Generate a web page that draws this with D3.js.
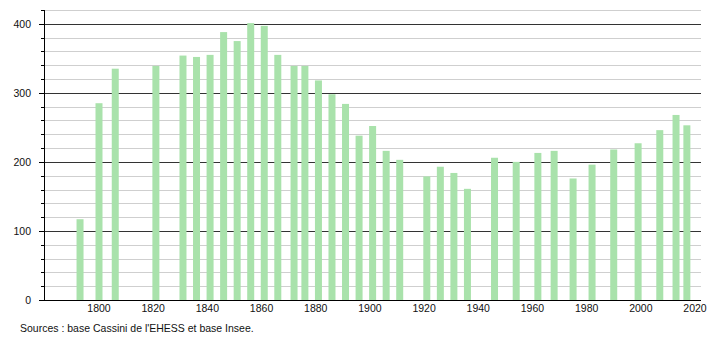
<!DOCTYPE html>
<meta charset="utf-8">
<style>
body { margin: 0; background: #fff; }
text { font-family: "Liberation Sans", Arial, sans-serif; fill: #111; }
.bar { fill: #a9e2ab; }
.grid-minor { stroke: #cfcfcf; stroke-width: 1; }
.grid-major { stroke: #333; stroke-width: 1; }
</style>
<body>
<script src="https://cdn.jsdelivr.net/npm/d3@7"></script>
<script>

// census years and population
var years = [1793, 1800, 1806, 1821, 1831, 1836, 1841, 1846, 1851, 1856, 1861, 1866,
             1872, 1876, 1881, 1886, 1891, 1896, 1901, 1906, 1911,
             1921, 1926, 1931, 1936, 1946, 1954, 1962, 1968, 1975, 1982,
             1990, 1999, 2007, 2013, 2017];
var population = [117, 285, 335, 339, 354, 352, 355, 388, 375, 401, 397, 355,
                  339, 339, 318, 298, 284, 238, 252, 216, 203,
                  179, 193, 184, 161, 206, 200, 213, 216, 176, 196,
                  218, 227, 246, 268, 253];
var yearTicks = [1800, 1820, 1840, 1860, 1880, 1900, 1920, 1940, 1960, 1980, 2000, 2020];
var popTicks = [0, 100, 200, 300, 400];
var source = "Sources : base Cassini de l'EHESS et base Insee.";

var W = 710, H = 340;
var plotL = 44, plotR = 701, plotT = 10, plotB = 300;

var svg = d3.select("body").append("svg")
    .attr("width", W)
    .attr("height", H);

// scales
var x = d3.scaleLinear()
    .domain([1800, 2020])
    .range([99, 695]);
var y = d3.scaleLinear()
    .domain([0, 420])
    .range([plotB, plotT]);

// gridlines every 20, darker every 100
var gridVals = d3.range(20, 421, 20);
svg.selectAll(".grid")
    .data(gridVals)
    .enter().append("line")
    .attr("class", function(d) { return d % 100 === 0 ? "grid-major" : "grid-minor"; })
    .attr("x1", plotL)
    .attr("x2", plotR)
    .attr("y1", function(d) { return Math.round(y(d)) + 0.5; })
    .attr("y2", function(d) { return Math.round(y(d)) + 0.5; });

// bars
var bw = 7;
svg.selectAll(".bar")
    .data(years)
    .enter().append("rect")
    .attr("class", "bar")
    .attr("x", function(d) { return x(d) - bw / 2; })
    .attr("width", bw)
    .attr("y", function(d, i) { return y(population[i]); })
    .attr("height", function(d, i) { return plotB - y(population[i]); });

// y axis with minor ticks
svg.append("line")
    .attr("x1", plotL + 0.5).attr("x2", plotL + 0.5)
    .attr("y1", plotT).attr("y2", plotB)
    .attr("stroke", "#000");
svg.selectAll(".ytick")
    .data(d3.range(0, 421, 20))
    .enter().append("line")
    .attr("x1", function(d) { return d % 100 === 0 ? plotL - 5 : plotL - 3; })
    .attr("x2", plotL)
    .attr("y1", function(d) { return Math.round(y(d)) + 0.5; })
    .attr("y2", function(d) { return Math.round(y(d)) + 0.5; })
    .attr("stroke", "#000");
svg.selectAll(".ylab")
    .data(popTicks)
    .enter().append("text")
    .attr("x", 31)
    .attr("y", function(d) { return y(d) + 4; })
    .attr("text-anchor", "end")
    .style("font-size", "10.5px")
    .text(function(d) { return d; });

// x axis
svg.append("line")
    .attr("x1", plotL - 5).attr("x2", plotR)
    .attr("y1", plotB + 0.5).attr("y2", plotB + 0.5)
    .attr("stroke", "#000");
svg.selectAll(".xlab")
    .data(yearTicks)
    .enter().append("text")
    .attr("x", function(d) { return x(d); })
    .attr("y", 312)
    .attr("text-anchor", "middle")
    .style("font-size", "10.5px")
    .text(function(d) { return d; });

svg.append("text")
    .attr("x", 20)
    .attr("y", 332)
    .style("font-size", "10.5px")
    .text(source);

</script>
</body>
